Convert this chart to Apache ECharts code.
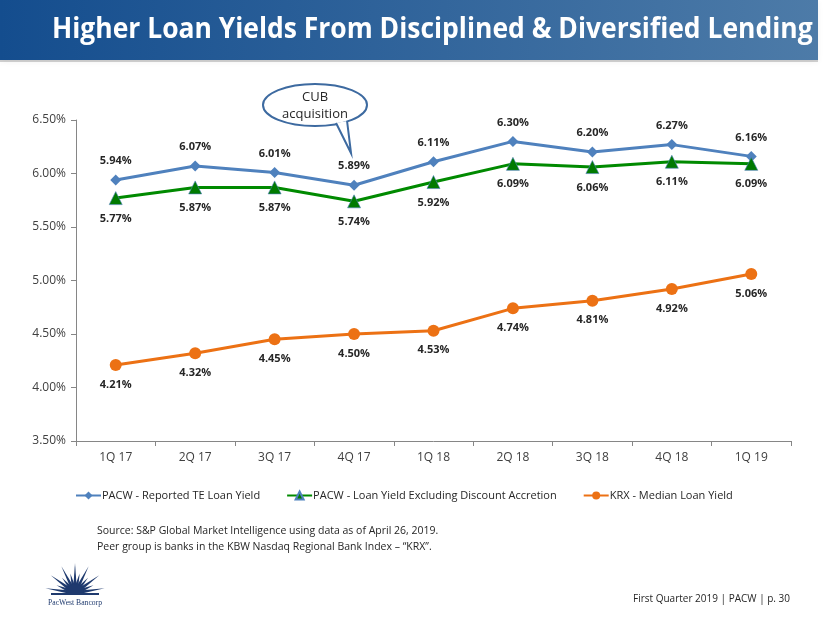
<!DOCTYPE html>
<html><head><meta charset="utf-8">
<script src="https://cdn.jsdelivr.net/npm/echarts@6/dist/echarts.min.js"></script>
<style>html,body{margin:0;padding:0;background:#fff}#c{width:830px;height:623px}</style>
</head><body><div id="c"></div>
<script>
const categories = ['1Q 17','2Q 17','3Q 17','4Q 17','1Q 18','2Q 18','3Q 18','4Q 18','1Q 19'];
const reported = [5.94, 6.07, 6.01, 5.89, 6.11, 6.30, 6.20, 6.27, 6.16];
const excludingAccretion = [5.77, 5.87, 5.87, 5.74, 5.92, 6.09, 6.06, 6.11, 6.09];
const krxMedian = [4.21, 4.32, 4.45, 4.50, 4.53, 4.74, 4.81, 4.92, 5.06];
const seriesNames = ['PACW - Reported TE Loan Yield','PACW - Loan Yield Excluding Discount Accretion','KRX - Median Loan Yield'];
const titleText = 'Higher Loan Yields From Disciplined & Diversified Lending';

const chart = echarts.init(document.getElementById('c'), null, {renderer:'canvas'});
const F = '"Open Sans", "Liberation Sans", sans-serif';
const lbl = (pos, dist) => ({show:true, position:pos, distance:dist, fontFamily:F, fontSize:11, fontWeight:'bold', color:'#262626', formatter: p => p.value.toFixed(2)+'%'});

const option = {
  animation:false,
  grid:{left:76, right:39, top:120, bottom:182},
  xAxis:{type:'category', data:categories, boundaryGap:true,
    axisLine:{lineStyle:{color:'#868686'}}, axisTick:{show:true, length:5, lineStyle:{color:'#868686'}},
    axisLabel:{fontFamily:F, fontSize:12, color:'#404040', margin:11}},
  yAxis:{type:'value', min:3.5, max:6.5, interval:0.5,
    axisLine:{show:true, lineStyle:{color:'#868686'}}, axisTick:{show:true, length:5, lineStyle:{color:'#868686'}},
    splitLine:{show:false},
    axisLabel:{fontFamily:F, fontSize:12, color:'#404040', margin:10, formatter: v => v.toFixed(2)+'%'}},
  legend:{top:485, left:70, itemGap:26, itemWidth:25, itemHeight:10,
    textStyle:{fontFamily:F, fontSize:11, color:'#262626', padding:[0,0,0,-4]}, data:seriesNames},
  series:[
    {name:seriesNames[0], type:'line', data:reported, symbol:'diamond', symbolSize:11,
      lineStyle:{color:'#4f81bd', width:3}, itemStyle:{color:'#4f81bd'}, label:lbl('top',8)},
    {name:seriesNames[1], type:'line', data:excludingAccretion, symbol:'triangle', symbolSize:13,
      lineStyle:{color:'#008a00', width:3}, itemStyle:{color:'#007a00', borderColor:'#4f81bd', borderWidth:0.6}, label:lbl('bottom',8)},
    {name:seriesNames[2], type:'line', data:krxMedian, symbol:'circle', symbolSize:12,
      lineStyle:{color:'#ec7114', width:3}, itemStyle:{color:'#ec7114'}, label:lbl('bottom',8)}
  ]
};
chart.setOption(option);

// callout anchored to the 4Q 17 reported point
const tip = chart.convertToPixel({gridIndex:0}, [3, reported[3]]);
const tipX = tip[0] - 3, tipY = tip[1] - 32;
const cx = 315, cy = 105;

// logo rays
const rays = [];
const ox = 75, oy = 593;
for (let i = 0; i < 13; i++) {
  const a = Math.PI * (0.05 + 0.9 * i / 12);
  const len = (i % 2 === 0) ? 30 : 20;
  const w = 0.2;
  rays.push({type:'polygon', shape:{points:[
    [ox + 8*Math.cos(a-w), oy - 8*Math.sin(a-w)],
    [ox + len*Math.cos(a), oy - len*Math.sin(a)],
    [ox + 8*Math.cos(a+w), oy - 8*Math.sin(a+w)]]}, style:{fill:'#1f3a6e'}});
}

chart.setOption({graphic:[
  {type:'rect', shape:{x:0, y:2, width:818, height:60}, style:{fill:'rgba(0,0,0,0.18)', shadowBlur:6, shadowColor:'rgba(0,0,0,0.3)'}, z:0},
  {type:'rect', shape:{x:0, y:0, width:818, height:60}, style:{fill:new echarts.graphic.LinearGradient(0,0,1,0,[{offset:0,color:'#144d8e'},{offset:1,color:'#4d7ba8'}])}, z:1},
  {type:'text', x:52, y:30, scaleX:0.945, style:{text:titleText, fill:'#ffffff', font:'bold 28px '+F, textVerticalAlign:'middle'}, z:2},
  {type:'ellipse', shape:{cx:cx, cy:cy, rx:52, ry:21}, style:{fill:'#fff', stroke:'#3d6aa0', lineWidth:2}, z:3},
  {type:'polyline', shape:{points:[[tipX-15, cy+18],[tipX, tipY],[tipX-4, cy+16]]}, style:{fill:'#fff', stroke:'#3d6aa0', lineWidth:2}, z:4},
  {type:'polygon', shape:{points:[[tipX-17, cy+14],[tipX-15, cy+17],[tipX-4, cy+15],[tipX-4, cy+10]]}, style:{fill:'#fff'}, z:5},
  {type:'text', x:cx, y:cy-8, style:{text:'CUB', fill:'#262626', font:'13px '+F, textAlign:'center', textVerticalAlign:'middle'}, z:6},
  {type:'text', x:cx, y:cy+9, style:{text:'acquisition', fill:'#262626', font:'13px '+F, textAlign:'center', textVerticalAlign:'middle'}, z:6},
  {type:'text', x:97, y:531, style:{text:'Source: S&P Global Market Intelligence using data as of April 26, 2019.', fill:'#262626', font:'10.5px '+F, textVerticalAlign:'middle'}},
  {type:'text', x:97, y:547, style:{text:'Peer group is banks in the KBW Nasdaq Regional Bank Index – \u201cKRX\u201d.', fill:'#262626', font:'10.5px '+F, textVerticalAlign:'middle'}},
  {type:'text', x:790, y:599, style:{text:'First Quarter 2019 | PACW | p. 30', fill:'#262626', font:'10px '+F, textAlign:'right', textVerticalAlign:'middle'}},
  ...rays,
  {type:'sector', shape:{cx:ox, cy:oy, r:9, r0:0, startAngle:Math.PI, endAngle:2*Math.PI, clockwise:true}, style:{fill:'#1f3a6e'}},
  {type:'rect', shape:{x:51, y:oy, width:48, height:2}, style:{fill:'#1f3a6e'}},
  {type:'text', x:75, y:603, scaleX:0.85, style:{text:'PacWest Bancorp', fill:'#1f3a6e', font:'9px "Liberation Serif", "DejaVu Serif", serif', textAlign:'center', textVerticalAlign:'middle'}}
]});
</script></body></html>
